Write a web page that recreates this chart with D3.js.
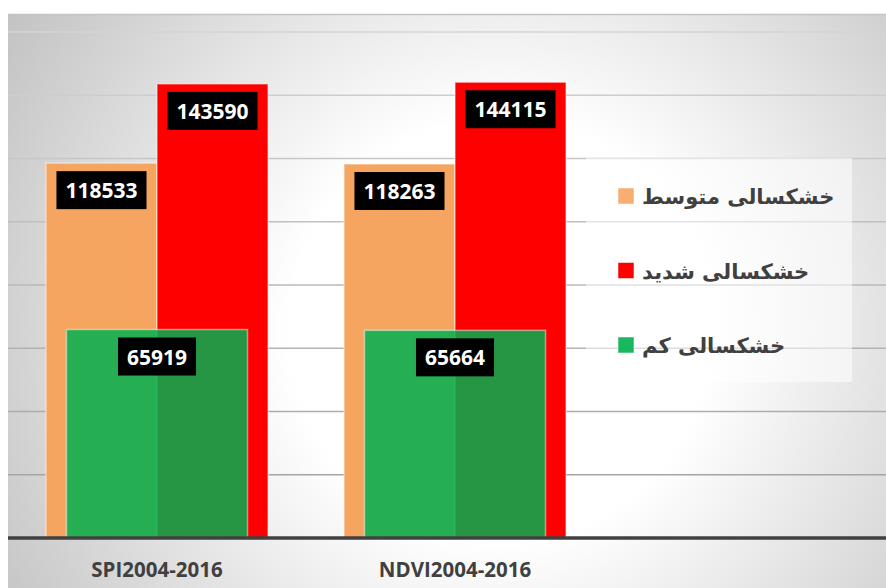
<!DOCTYPE html>
<html>
<head>
<meta charset="utf-8">
<script src="https://cdn.jsdelivr.net/npm/d3@7"></script>
<style>
  body { margin: 0; background: #fff; }
</style>
</head>
<body>
<script>
// data
var categories = ["SPI2004-2016", "NDVI2004-2016"];
var moderate = [118533, 118263];   // خشکسالی متوسط
var severe = [143590, 144115];     // خشکسالی شدید
var mild = [65919, 65664];         // خشکسالی کم
var legendNames = ["خشکسالی متوسط", "خشکسالی شدید", "خشکسالی کم"];
var yTicks = [0, 20000, 40000, 60000, 80000, 100000, 120000, 140000, 160000];

var w = 886, h = 588;
var colors = {moderate: "#F6A561", severe: "#FF0000", mild: "#00B050"};

var svg = d3.select("body").append("svg")
	.attr("width", w)
	.attr("height", h);

var defs = svg.append("defs");
var bg = defs.append("radialGradient")
	.attr("id", "bg")
	.attr("gradientUnits", "userSpaceOnUse")
	.attr("cx", 500).attr("cy", 330).attr("r", 600);
bg.append("stop").attr("offset", 0).attr("stop-color", "#ffffff");
bg.append("stop").attr("offset", 0.35).attr("stop-color", "#ffffff");
bg.append("stop").attr("offset", 1).attr("stop-color", "#c0c0c0");

var gl = defs.append("linearGradient")
	.attr("id", "grid")
	.attr("gradientUnits", "userSpaceOnUse")
	.attr("x1", 0).attr("x2", 0).attr("y1", 32).attr("y2", 475);
gl.append("stop").attr("offset", 0).attr("stop-color", "#d4d4d4");
gl.append("stop").attr("offset", 1).attr("stop-color", "#a5a5a5");

// chart area
svg.append("rect")
	.attr("x", 8).attr("y", 14)
	.attr("width", w - 8).attr("height", h - 14)
	.attr("fill", "url(#bg)");
svg.append("line")
	.attr("x1", 8).attr("x2", w)
	.attr("y1", 14.5).attr("y2", 14.5)
	.attr("stroke", "#c4c4c4")
	.attr("stroke-width", 1.5);

var x0 = d3.scaleBand()
	.domain(categories)
	.range([8, 604])
	.padding(0);

var x1 = d3.scaleBand()
	.domain(["moderate", "severe"])
	.range([0, x0.bandwidth()])
	.paddingInner(0)
	.paddingOuter(0.342);

var xg = d3.scaleBand()
	.domain(["mild"])
	.range([0, x0.bandwidth()])
	.paddingOuter(0.323);

var yScale = d3.scaleLinear()
	.domain([0, 160000])
	.range([538, 32]);

// gridlines
svg.append("g")
	.selectAll("line")
	.data(yTicks.slice(1))
	.enter()
	.append("line")
	.attr("x1", 8)
	.attr("x2", w)
	.attr("y1", d => yScale(d))
	.attr("y2", d => yScale(d))
	.attr("stroke", "url(#grid)")
	.attr("stroke-width", 1.6);

var rows = categories.map((c, i) => ({cat: c, moderate: moderate[i], severe: severe[i], mild: mild[i]}));

// orange and red bars
var groups = svg.append("g")
	.selectAll("g")
	.data(rows)
	.enter()
	.append("g")
	.attr("transform", d => "translate(" + x0(d.cat) + ",0)");

groups.selectAll(".bar")
	.data(d => ["moderate", "severe"].map(k => ({key: k, value: d[k]})))
	.enter()
	.append("rect")
	.attr("class", "bar")
	.attr("x", d => x1(d.key))
	.attr("width", x1.bandwidth())
	.attr("y", d => yScale(d.value))
	.attr("height", d => yScale(0) - yScale(d.value))
	.attr("fill", d => colors[d.key])
	.attr("stroke", "rgba(255,255,255,0.45)")
	.attr("stroke-width", 1.5);

// green bars, wider and see-through
groups.append("rect")
	.attr("x", xg("mild"))
	.attr("width", xg.bandwidth())
	.attr("y", d => yScale(d.mild))
	.attr("height", d => yScale(0) - yScale(d.mild))
	.attr("fill", colors.mild)
	.attr("fill-opacity", 0.85)
	.attr("stroke", "rgba(255,255,255,0.45)")
	.attr("stroke-width", 1.5);

// axis line
svg.append("line")
	.attr("x1", 8).attr("x2", w)
	.attr("y1", yScale(0)).attr("y2", yScale(0))
	.attr("stroke", "#404040")
	.attr("stroke-width", 3.5);

// category labels
svg.append("g")
	.selectAll("text")
	.data(categories)
	.enter()
	.append("text")
	.attr("x", d => x0(d) + x0.bandwidth() / 2)
	.attr("y", 577)
	.attr("text-anchor", "middle")
	.attr("font-family", "Open Sans")
	.attr("font-weight", "bold")
	.attr("font-size", 20.5)
	.attr("fill", "#404040")
	.text(d => d);

// data labels
var labels = [];
rows.forEach(d => {
	labels.push({cx: x0(d.cat) + x1("moderate") + x1.bandwidth() / 2, v: d.moderate});
	labels.push({cx: x0(d.cat) + x1("severe") + x1.bandwidth() / 2, v: d.severe});
	labels.push({cx: x0(d.cat) + xg("mild") + xg.bandwidth() / 2, v: d.mild});
});

var lab = svg.append("g")
	.selectAll("g")
	.data(labels)
	.enter()
	.append("g");

lab.append("rect").attr("fill", "#000");
lab.append("text")
	.attr("x", d => d.cx)
	.attr("y", d => yScale(d.v) + 8 + 27)
	.attr("text-anchor", "middle")
	.attr("font-family", "Open Sans")
	.attr("font-weight", "bold")
	.attr("font-size", 21)
	.attr("fill", "#fff")
	.text(d => d.v);

lab.each(function(d){
	var tw = d3.select(this).select("text").node().getComputedTextLength();
	d3.select(this).select("rect")
		.attr("x", d.cx - tw / 2 - 9)
		.attr("y", yScale(d.v) + 8)
		.attr("width", tw + 18)
		.attr("height", 38);
});

// legend
var legend = svg.append("g");
legend.append("rect")
	.attr("x", 586).attr("y", 158)
	.attr("width", 266).attr("height", 224)
	.attr("fill", "rgba(255,255,255,0.55)");

var legendColors = [colors.moderate, colors.severe, colors.mild];
var item = legend.selectAll(".item")
	.data(legendNames)
	.enter()
	.append("g")
	.attr("class", "item")
	.attr("transform", (d, i) => "translate(0," + (196 + i * 74.5) + ")");

item.append("rect")
	.attr("x", 618).attr("y", -8)
	.attr("width", 16).attr("height", 16)
	.attr("fill", (d, i) => legendColors[i])
	.attr("fill-opacity", (d, i) => i == 1 ? 1 : 0.9)
	.attr("stroke", "rgba(255,255,255,0.5)");

item.append("text")
	.attr("x", 642)
	.attr("y", 8)
	.attr("text-anchor", "start")
	.attr("font-family", "DejaVu Sans")
	.attr("font-weight", "bold")
	.attr("font-size", 21)
	.attr("fill", "#404040")
	.text(d => d);
</script>
</body>
</html>
